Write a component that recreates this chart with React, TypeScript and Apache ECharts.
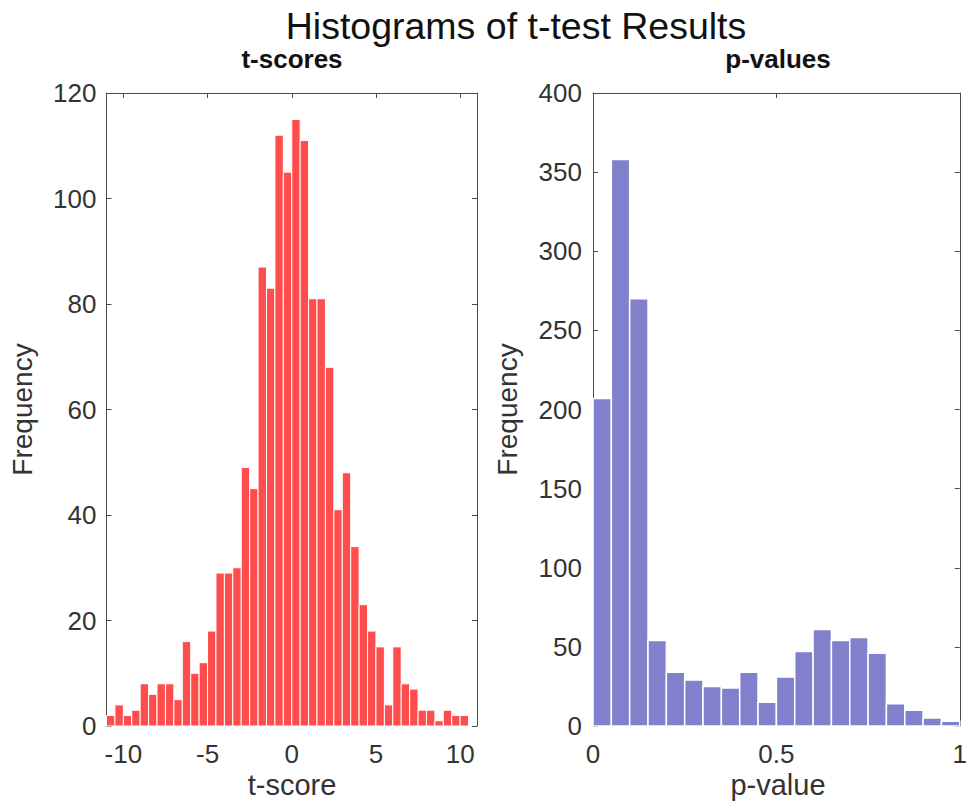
import React, { useEffect, useRef } from 'react';
import * as echarts from 'echarts';

const FONT = '"Liberation Sans", Arial, Helvetica, sans-serif';

// t-score histogram: bins of width 0.5 starting at -11
const tScoreBinStart = -11;
const tScoreBinWidth = 0.5;
const tScoreCounts = [
  2, 4, 2, 3, 8, 6, 8, 8, 5, 16, 10, 12, 18, 29, 29, 30, 49, 45, 87, 83, 112, 105,
  115, 111, 81, 81, 68, 41, 48, 34, 23, 18, 15, 4, 15, 8, 7, 3, 3, 1, 3, 2, 2,
];

// p-value histogram: bins of width 0.05 starting at 0
const pValueBinStart = 0;
const pValueBinWidth = 0.05;
const pValueCounts = [207, 358, 270, 54, 34, 29, 25, 24, 34, 15, 31, 47, 61, 54, 56, 46, 14, 10, 5, 3];

const tTickValues = [-10, -5, 0, 5, 10];
const pTickValues = [0, 0.5, 1];

const titleText = 'Histograms of t-test Results';
const leftTitle = 't-scores';
const rightTitle = 'p-values';
const leftXName = 't-score';
const rightXName = 'p-value';
const yName = 'Frequency';

const LINE = '#4a4a4a';
const TEXT = '#333333';

function toBins(start: number, width: number, counts: number[]) {
  return counts.map((c, i) => [start + i * width, start + (i + 1) * width, c]);
}

function makeRender(color: string, lw: number) {
  return (params: any, api: any) => {
    const x0 = api.value(0);
    const x1 = api.value(1);
    const v = api.value(2);
    const p0 = api.coord([x0, v]);
    const p1 = api.coord([x1, 0]);
    return {
      type: 'rect',
      shape: { x: p0[0], y: p0[1], width: p1[0] - p0[0], height: p1[1] - p0[1] },
      style: { fill: color, stroke: '#ffffff', lineWidth: lw },
    };
  };
}

export default function App() {
  const ref = useRef<HTMLDivElement>(null);

  useEffect(() => {
    if (!ref.current) return;
    const chart = echarts.init(ref.current, null, { renderer: 'svg' });

    const tick = { show: true, inside: true, length: 5, lineStyle: { color: LINE, width: 1 } };
    const label = { fontSize: 26, fontFamily: FONT, color: TEXT };
    const line = { show: true, onZero: false, lineStyle: { color: LINE, width: 1 } };
    const noLine = { show: false, onZero: false };

    const option: any = {
      animation: false,
      backgroundColor: '#ffffff',
      grid: [
        { left: 106.5, top: 93, width: 370.5, height: 633 },
        { left: 593, top: 93, width: 370, height: 633 },
      ],
      xAxis: [
        {
          type: 'value', gridIndex: 0, min: -11, max: 11, position: 'bottom',
          axisLine: noLine,
          axisTick: { ...tick, customValues: tTickValues },
          axisLabel: { ...label, margin: 15, customValues: tTickValues },
          splitLine: { show: false },
        },
        {
          type: 'value', gridIndex: 0, min: -11, max: 11, position: 'top',
          axisLine: line,
          axisTick: { ...tick, customValues: tTickValues },
          axisLabel: { show: false },
          splitLine: { show: false },
        },
        {
          type: 'value', gridIndex: 1, min: 0, max: 1, interval: 0.5, position: 'bottom',
          axisLine: noLine,
          axisTick: { ...tick, customValues: pTickValues },
          axisLabel: { ...label, margin: 15, customValues: pTickValues },
          splitLine: { show: false },
        },
        {
          type: 'value', gridIndex: 1, min: 0, max: 1, interval: 0.5, position: 'top',
          axisLine: line,
          axisTick: { ...tick, customValues: pTickValues },
          axisLabel: { show: false },
          splitLine: { show: false },
        },
      ],
      yAxis: [
        {
          type: 'value', gridIndex: 0, min: 0, max: 120, interval: 20, position: 'left',
          axisLine: line,
          axisTick: tick,
          axisLabel: { ...label, margin: 10 },
          splitLine: { show: false },
        },
        {
          type: 'value', gridIndex: 0, min: 0, max: 120, interval: 20, position: 'right',
          axisLine: line,
          axisTick: tick,
          axisLabel: { show: false },
          splitLine: { show: false },
        },
        {
          type: 'value', gridIndex: 1, min: 0, max: 400, interval: 50, position: 'left',
          axisLine: line,
          axisTick: tick,
          axisLabel: { ...label, margin: 11 },
          splitLine: { show: false },
        },
        {
          type: 'value', gridIndex: 1, min: 0, max: 400, interval: 50, position: 'right',
          axisLine: line,
          axisTick: tick,
          axisLabel: { show: false },
          splitLine: { show: false },
        },
      ],
      series: [
        {
          type: 'custom', xAxisIndex: 0, yAxisIndex: 0, z: 5,
          renderItem: makeRender('#FF4D4D', 1),
          encode: { x: [0, 1], y: 2 },
          data: toBins(tScoreBinStart, tScoreBinWidth, tScoreCounts),
        },
        {
          type: 'custom', xAxisIndex: 2, yAxisIndex: 2, z: 5,
          renderItem: makeRender('#8080CC', 1.5),
          encode: { x: [0, 1], y: 2 },
          data: toBins(pValueBinStart, pValueBinWidth, pValueCounts),
        },
      ],
      graphic: [
        { type: 'text', x: 516, y: 25.5, style: { text: titleText, fontSize: 37.5, fontFamily: FONT, fill: '#111', align: 'center', verticalAlign: 'middle' } },
        { type: 'text', x: 292, y: 59, style: { text: leftTitle, fontSize: 26, fontWeight: 'bold', fontFamily: FONT, fill: '#111', align: 'center', verticalAlign: 'middle' } },
        { type: 'text', x: 778, y: 59, style: { text: rightTitle, fontSize: 26, fontWeight: 'bold', fontFamily: FONT, fill: '#111', align: 'center', verticalAlign: 'middle' } },
        { type: 'text', x: 292, y: 785, style: { text: leftXName, fontSize: 29, fontFamily: FONT, fill: TEXT, align: 'center', verticalAlign: 'middle' } },
        { type: 'text', x: 778, y: 785, style: { text: rightXName, fontSize: 29, fontFamily: FONT, fill: TEXT, align: 'center', verticalAlign: 'middle' } },
        { type: 'text', x: 22, y: 409.5, rotation: Math.PI / 2, style: { text: yName, fontSize: 28, fontFamily: FONT, fill: TEXT, align: 'center', verticalAlign: 'middle' } },
        { type: 'text', x: 507, y: 409.5, rotation: Math.PI / 2, style: { text: yName, fontSize: 28, fontFamily: FONT, fill: TEXT, align: 'center', verticalAlign: 'middle' } },
      ],
    };

    chart.setOption(option);
    return () => chart.dispose();
  }, []);

  return (
    <div
      ref={ref}
      style={{ position: 'absolute', left: 0, top: 0, width: 970, height: 807 }}
    />
  );
}
